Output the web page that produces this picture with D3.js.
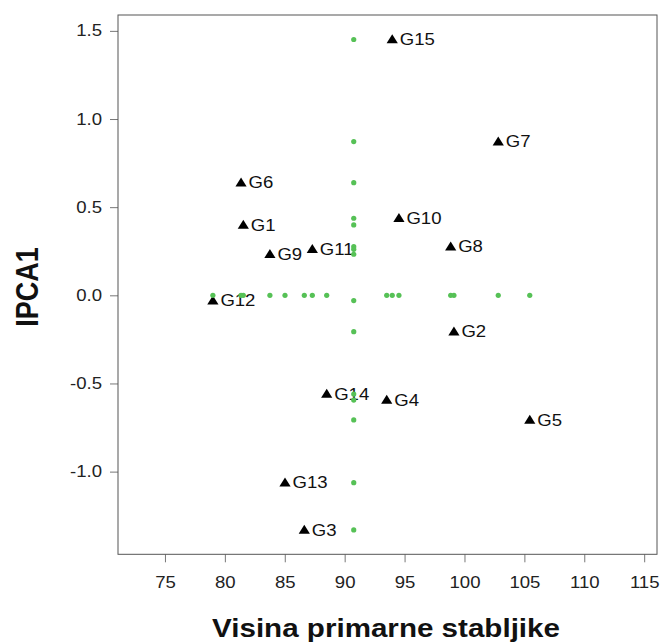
<!DOCTYPE html>
<html lang="en">
<head>
<meta charset="utf-8">
<title>IPCA1 vs Visina primarne stabljike</title>
<script src="https://d3js.org/d3.v7.min.js"></script>
<style>
  body { margin: 0; background: #fff; }
  text { font-family: "Liberation Sans", Arial, sans-serif; }
</style>
</head>
<body>
<div id="chart"></div>
<script>
// genotypes, mean plant height (x) and IPCA1 score (y)
var genotypes = ["G1", "G2", "G3", "G4", "G5", "G6", "G7", "G8", "G9", "G10", "G11", "G12", "G13", "G14", "G15"];
var visina = [81.54, 99.12, 86.63, 93.51, 105.45, 81.35, 102.82, 98.85, 83.76, 94.53, 87.30, 79.00, 85.02, 88.50, 93.97];
var ipca1 = [0.399, -0.206, -1.331, -0.594, -0.707, 0.639, 0.872, 0.276, 0.233, 0.437, 0.261, -0.030, -1.063, -0.560, 1.451];
var xTicks = [75, 80, 85, 90, 95, 100, 105, 110, 115];
var yTicks = [-1.0, -0.5, 0.0, 0.5, 1.0, 1.5];

var width = 660, height = 644;
var plot = {left: 118, top: 15, right: 657, bottom: 554.3};
var stretch = 1.16; // the original is a bit wide, text looks stretched

var data = genotypes.map(function(g, i) {
  return {name: g, x: visina[i], y: ipca1[i]};
});
var meanX = d3.mean(visina);

var svg = d3.select("#chart").append("svg")
  .attr("width", width)
  .attr("height", height);

var x = d3.scaleLinear()
  .domain([71.08, 116.07])
  .range([plot.left, plot.right]);

var y = d3.scaleLinear()
  .domain([-1.469, 1.59])
  .range([plot.bottom, plot.top]);

// axes
var xAxis = d3.axisBottom(x)
  .tickValues(xTicks)
  .tickFormat(d => String(d))
  .tickSize(8)
  .tickSizeOuter(0)
  .tickPadding(14.6);

var yAxis = d3.axisLeft(y)
  .tickValues(yTicks)
  .tickFormat(d => d.toFixed(1))
  .tickSize(8)
  .tickSizeOuter(0);

var gx = svg.append("g")
  .attr("transform", "translate(0," + plot.bottom + ")")
  .call(xAxis);

var gy = svg.append("g")
  .attr("transform", "translate(" + plot.left + ",0)")
  .call(yAxis);

[gx, gy].forEach(function(g) {
  g.select(".domain").remove();
  g.selectAll(".tick line").attr("stroke", "#777");
  g.selectAll(".tick text")
    .attr("fill", "#222")
    .style("font-size", "16px")
    .style("font-family", "'Liberation Sans', Arial, sans-serif");
});
gx.selectAll(".tick text").attr("transform", "scale(" + stretch + ",1)");
gy.selectAll(".tick text")
  .attr("x", -16 / stretch)
  .attr("transform", "scale(" + stretch + ",1)");

// frame
svg.append("rect")
  .attr("x", plot.left)
  .attr("y", plot.top)
  .attr("width", plot.right - plot.left)
  .attr("height", plot.bottom - plot.top)
  .attr("fill", "none")
  .attr("stroke", "#555")
  .attr("stroke-width", 1);

// genotype markers
var tri = "M0,-5.2L5.6,3.8L-5.6,3.8Z";

var pts = svg.append("g").selectAll("g")
  .data(data)
  .enter()
  .append("g")
  .attr("transform", d => "translate(" + x(d.x) + "," + y(d.y) + ")");

pts.append("path")
  .attr("d", tri)
  .attr("fill", "#000");

pts.append("text")
  .attr("transform", "translate(7.5,0) scale(" + stretch + ",1)")
  .attr("dy", "0.36em")
  .style("font-size", "16px")
  .attr("fill", "#111")
  .text(d => d.name);

// green projection dots: on the zero line and on the mean line
var green = "#56c156";

svg.append("g").selectAll("circle.h")
  .data(data)
  .enter()
  .append("circle")
  .attr("class", "h")
  .attr("cx", d => x(d.x))
  .attr("cy", y(0))
  .attr("r", 2.6)
  .attr("fill", green);

svg.append("g").selectAll("circle.v")
  .data(data)
  .enter()
  .append("circle")
  .attr("class", "v")
  .attr("cx", x(meanX))
  .attr("cy", d => y(d.y))
  .attr("r", 2.6)
  .attr("fill", green);

// axis titles
svg.append("text")
  .attr("transform", "translate(" + 386 + ",637) scale(" + stretch + ",1)")
  .attr("text-anchor", "middle")
  .style("font-size", "25.5px")
  .style("font-weight", "bold")
  .attr("fill", "#111")
  .text("Visina primarne stabljike");

svg.append("text")
  .attr("transform", "translate(38,287) rotate(-90) scale(1," + stretch + ")")
  .attr("text-anchor", "middle")
  .style("font-size", "27px")
  .style("font-weight", "bold")
  .attr("fill", "#111")
  .text("IPCA1");
</script>
</body>
</html>
